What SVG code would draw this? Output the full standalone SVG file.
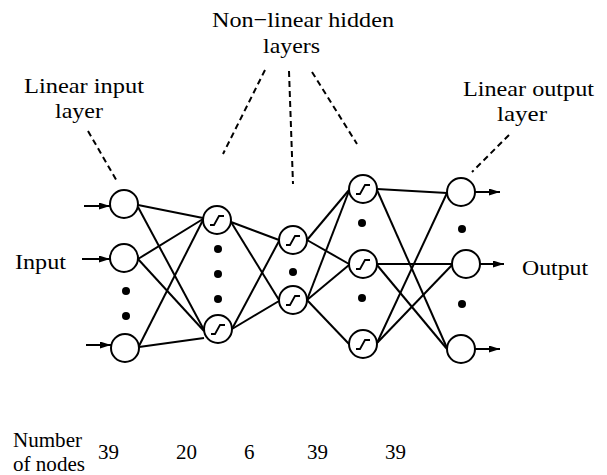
<svg xmlns="http://www.w3.org/2000/svg" xmlns:xlink="http://www.w3.org/1999/xlink" width="607" height="475" viewBox="0 0 607 475">
<style>
  text { font-family: "Liberation Serif", "Times New Roman", serif; font-size: 22px; fill: #000; }
  .small { font-size: 21px; }
  .node { fill: #fff; stroke: #000; stroke-width: 2; }
  .dot { fill: #000; stroke: none; }
  .edge { stroke: #000; stroke-width: 2; fill: none; }
  .dash { stroke: #000; stroke-width: 2; stroke-dasharray: 6 4; fill: none; }
  .sig { stroke: #000; stroke-width: 1.8; fill: none; }
  .arrow { stroke: #000; stroke-width: 2; fill: none; marker-end: url(#ah); }
</style>
<defs>
  <marker id="ah" markerUnits="userSpaceOnUse" markerWidth="12" markerHeight="8" refX="11" refY="3.5" orient="auto">
    <path d="M0,0 L11,3.5 L0,7 z" fill="#000"/>
  </marker>
  <path id="sig" d="M-7,5 H-3 L2,-4 H7"/>
</defs>
<rect width="607" height="475" fill="#fff"/>

<g id="connectors">
  <!-- layer 1 to 2 -->
  <line class="edge" x1="138" y1="205" x2="203" y2="218"/>
  <line class="edge" x1="138" y1="207" x2="204" y2="330"/>
  <line class="edge" x1="138" y1="259" x2="203" y2="219"/>
  <line class="edge" x1="138" y1="259" x2="204" y2="331"/>
  <line class="edge" x1="139" y1="346" x2="203" y2="220"/>
  <line class="edge" x1="139" y1="347" x2="204" y2="338"/>
  <!-- layer 2 to 3 -->
  <line class="edge" x1="231" y1="222" x2="279" y2="240"/>
  <line class="edge" x1="231" y1="222" x2="279" y2="300"/>
  <line class="edge" x1="232" y1="329" x2="279" y2="241"/>
  <line class="edge" x1="232" y1="329" x2="279" y2="301"/>
  <!-- layer 3 to 4 -->
  <line class="edge" x1="307" y1="240" x2="349" y2="190"/>
  <line class="edge" x1="307" y1="240" x2="349" y2="264"/>
  <line class="edge" x1="307" y1="300" x2="349" y2="191"/>
  <line class="edge" x1="307" y1="300" x2="349" y2="265"/>
  <line class="edge" x1="307" y1="300" x2="349" y2="344"/>
  <!-- layer 4 to 5 -->
  <line class="edge" x1="377" y1="189" x2="447" y2="193"/>
  <line class="edge" x1="377" y1="190" x2="447" y2="348"/>
  <line class="edge" x1="377" y1="264" x2="452" y2="264"/>
  <line class="edge" x1="377" y1="265" x2="447" y2="349"/>
  <line class="edge" x1="377" y1="343" x2="447" y2="193"/>
  <line class="edge" x1="377" y1="343" x2="452" y2="265"/>
  <!-- input arrows -->
  <line class="arrow" x1="84" y1="206" x2="110" y2="206"/>
  <line class="arrow" x1="82" y1="259" x2="110" y2="259"/>
  <line class="arrow" x1="86" y1="345" x2="111" y2="345"/>
  <!-- output arrows -->
  <line class="arrow" x1="475" y1="192" x2="500" y2="192"/>
  <line class="arrow" x1="480" y1="264" x2="504" y2="264"/>
  <line class="arrow" x1="475" y1="349" x2="500" y2="349"/>
  <!-- dashed callouts -->
  <line class="dash" x1="88" y1="131" x2="118" y2="183"/>
  <line class="dash" x1="265" y1="70" x2="223" y2="154"/>
  <line class="dash" x1="289" y1="71" x2="293" y2="184"/>
  <line class="dash" x1="312" y1="72" x2="357" y2="144"/>
  <line class="dash" x1="509" y1="135" x2="472" y2="172"/>
</g>

<g id="layer1">
  <circle class="node" cx="124" cy="204" r="14"/>
  <circle class="node" cx="124" cy="258" r="14"/>
  <circle class="node" cx="125" cy="348" r="14"/>
  <circle class="dot" cx="126" cy="291" r="4"/>
  <circle class="dot" cx="126" cy="316" r="4"/>
</g>
<g id="layer2">
  <circle class="node" cx="217" cy="220" r="14"/>
  <use href="#sig" class="sig" x="217" y="220"/>
  <circle class="node" cx="218" cy="329" r="14"/>
  <use href="#sig" class="sig" x="218" y="329"/>
  <circle class="dot" cx="218" cy="249" r="4"/>
  <circle class="dot" cx="218" cy="274" r="4"/>
  <circle class="dot" cx="218" cy="299" r="4"/>
</g>
<g id="layer3">
  <circle class="node" cx="293" cy="240" r="14"/>
  <use href="#sig" class="sig" x="293" y="240"/>
  <circle class="node" cx="293" cy="300" r="14"/>
  <use href="#sig" class="sig" x="293" y="300"/>
  <circle class="dot" cx="293" cy="272" r="4"/>
</g>
<g id="layer4">
  <circle class="node" cx="363" cy="189" r="14"/>
  <use href="#sig" class="sig" x="363" y="189"/>
  <circle class="node" cx="363" cy="264" r="14"/>
  <use href="#sig" class="sig" x="363" y="264"/>
  <circle class="node" cx="363" cy="344" r="14"/>
  <use href="#sig" class="sig" x="363" y="344"/>
  <circle class="dot" cx="362" cy="223" r="4"/>
  <circle class="dot" cx="362" cy="298" r="4"/>
</g>
<g id="layer5">
  <circle class="node" cx="461" cy="192" r="14"/>
  <circle class="node" cx="466" cy="264" r="14"/>
  <circle class="node" cx="461" cy="349" r="14"/>
  <circle class="dot" cx="462" cy="229" r="4"/>
  <circle class="dot" cx="462" cy="304" r="4"/>
</g>

<g id="labels">
  <text x="212" y="27" textLength="182" lengthAdjust="spacingAndGlyphs">Non−linear hidden</text>
  <text x="263" y="53" textLength="57" lengthAdjust="spacingAndGlyphs">layers</text>
  <text x="24" y="93" textLength="120" lengthAdjust="spacingAndGlyphs">Linear input</text>
  <text x="55" y="118" textLength="48" lengthAdjust="spacingAndGlyphs">layer</text>
  <text x="463" y="96" textLength="131" lengthAdjust="spacingAndGlyphs">Linear output</text>
  <text x="497" y="121" textLength="50" lengthAdjust="spacingAndGlyphs">layer</text>
  <text x="15" y="269" textLength="51" lengthAdjust="spacingAndGlyphs">Input</text>
  <text x="522" y="275" textLength="66" lengthAdjust="spacingAndGlyphs">Output</text>
  <text class="small" x="13" y="447" textLength="69" lengthAdjust="spacingAndGlyphs">Number</text>
  <text class="small" x="13" y="471" textLength="72" lengthAdjust="spacingAndGlyphs">of nodes</text>
  <text x="98" y="459" textLength="21" lengthAdjust="spacingAndGlyphs">39</text>
  <text x="176" y="459" textLength="21" lengthAdjust="spacingAndGlyphs">20</text>
  <text x="244" y="459" textLength="10.5" lengthAdjust="spacingAndGlyphs">6</text>
  <text x="307" y="459" textLength="21" lengthAdjust="spacingAndGlyphs">39</text>
  <text x="385" y="459" textLength="21" lengthAdjust="spacingAndGlyphs">39</text>
</g>
</svg>
